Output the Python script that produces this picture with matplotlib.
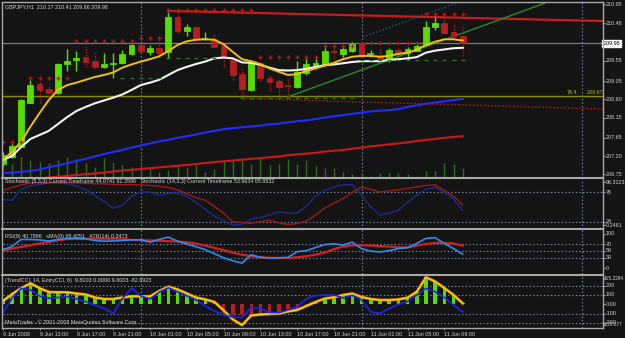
import numpy as np
import matplotlib.pyplot as plt
from matplotlib.patches import Rectangle
from matplotlib.lines import Line2D
import matplotlib.transforms as mtransforms

plt.rcParams['font.family'] = ['Liberation Sans Narrow', 'Liberation Sans', 'DejaVu Sans']

W, H = 625, 338
BG = '#141414'
TXT = '#d4d4d4'
GRID = '#7f8cab'
FRAME = '#a8a8a8'
BULL = '#58dc00'
BEAR = '#b41e1e'
FS = 3.9

#%% Data  (GBPJPY H1, 9 Jun 09:00 .. 11 Jun 11:00)
opens = [207.00, 207.18, 207.43, 208.52, 208.98, 208.85, 208.75, 209.46, 209.57, 209.64,
         209.54, 209.40, 209.46, 209.49, 209.72, 209.94, 209.77, 209.87, 209.77, 210.64,
         210.29, 210.38, 210.08, 210.08, 209.94, 209.57, 209.22, 208.83, 209.49, 209.13,
         209.05, 208.93, 208.90, 209.26, 209.44, 209.47, 209.78, 209.72, 209.80, 209.98,
         209.72, 209.67, 209.59, 209.82, 209.73, 209.80, 209.94, 210.38, 210.47, 210.25,
         210.17]
highs = [207.30, 207.52, 208.61, 209.08, 209.03, 208.95, 209.50, 209.84, 209.80, 209.90,
         209.77, 209.74, 209.74, 209.82, 209.96, 210.14, 209.94, 210.16, 210.76, 210.76,
         210.46, 210.42, 210.27, 210.23, 209.96, 209.62, 209.35, 209.57, 209.52, 209.20,
         209.12, 209.13, 209.54, 209.67, 209.67, 209.91, 209.90, 209.91, 210.01, 210.02,
         209.82, 209.90, 209.86, 209.90, 209.90, 210.02, 210.54, 210.64, 210.68, 210.49,
         210.41]
lows = [206.95, 207.15, 207.42, 208.51, 208.51, 208.54, 208.73, 209.30, 209.30, 209.40,
        209.38, 209.37, 209.13, 209.47, 209.69, 209.74, 209.69, 209.65, 209.61, 210.23,
        210.16, 210.00, 210.06, 209.89, 209.40, 209.08, 208.62, 208.80, 209.05, 208.81,
        208.71, 208.66, 208.88, 209.20, 209.40, 209.45, 209.59, 209.65, 209.77, 209.64,
        209.64, 209.54, 209.53, 209.69, 209.57, 209.79, 209.91, 210.31, 210.23, 210.11,
        209.66]
closes = [207.23, 207.45, 208.58, 208.95, 208.83, 208.76, 209.46, 209.55, 209.63, 209.52,
          209.40, 209.46, 209.50, 209.72, 209.94, 209.79, 209.86, 209.75, 210.62, 210.29,
          210.38, 210.08, 210.09, 209.90, 209.61, 209.20, 208.85, 209.49, 209.13, 209.02,
          208.91, 208.92, 209.28, 209.46, 209.50, 209.79, 209.77, 209.83, 209.96, 209.67,
          209.73, 209.59, 209.82, 209.75, 209.83, 209.92, 210.38, 210.49, 210.24, 210.17,
          209.98]
volumes = [120, 140, 210, 180, 160, 150, 180, 210, 184, 150, 110, 194, 160, 127, 110, 127, 110,
           60, 80, 130, 110, 130, 60, 90, 180, 180, 190, 140, 210, 130, 140, 190, 140, 180,
           120, 94, 94, 60, 37, 37, 20, 44, 50, 50, 37, 20, 67, 67, 144, 137, 94]

ma_fast = [207.10, 207.30, 207.55, 207.92, 208.26, 208.58, 208.83, 208.95, 209.01, 209.08,
           209.15, 209.20, 209.26, 209.38, 209.46, 209.53, 209.59, 209.66, 209.79, 209.94,
           210.03, 210.07, 210.08, 210.07, 209.96, 209.77, 209.59, 209.54, 209.47, 209.36,
           209.28, 209.20, 209.22, 209.30, 209.36, 209.43, 209.50, 209.59, 209.65, 209.67,
           209.67, 209.65, 209.67, 209.72, 209.75, 209.82, 209.94, 210.02, 210.08, 210.08,
           210.05]
ma_mid = [207.10, 207.20, 207.42, 207.62, 207.72, 207.82, 207.99, 208.16, 208.31, 208.41,
          208.50, 208.57, 208.64, 208.72, 208.83, 208.95, 209.01, 209.08, 209.20, 209.32,
          209.40, 209.47, 209.53, 209.61, 209.63, 209.61, 209.51, 209.50, 209.45, 209.38,
          209.32, 209.31, 209.32, 209.35, 209.40, 209.44, 209.46, 209.49, 209.52, 209.54,
          209.54, 209.54, 209.57, 209.59, 209.61, 209.64, 209.75, 209.80, 209.83, 209.86,
          209.87]
ma_slow_blue = [206.78, 206.79, 206.81, 206.83, 206.87, 206.92, 206.97, 207.02, 207.08, 207.13,
                207.19, 207.25, 207.30, 207.35, 207.41, 207.46, 207.51, 207.56, 207.60, 207.65,
                207.69, 207.73, 207.78, 207.82, 207.86, 207.89, 207.91, 207.93, 207.95, 207.98,
                208.00, 208.03, 208.06, 208.08, 208.11, 208.15, 208.18, 208.21, 208.24, 208.27,
                208.30, 208.32, 208.33, 208.36, 208.41, 208.45, 208.49, 208.52, 208.55, 208.58,
                208.61]
ma_slow_red = [206.57, 206.60, 206.61, 206.63, 206.65, 206.67, 206.69, 206.71, 206.73, 206.75,
               206.77, 206.79, 206.82, 206.84, 206.86, 206.88, 206.90, 206.92, 206.94, 206.96,
               206.98, 207.00, 207.03, 207.05, 207.07, 207.09, 207.11, 207.13, 207.15, 207.17,
               207.19, 207.22, 207.24, 207.26, 207.28, 207.31, 207.33, 207.35, 207.38, 207.41,
               207.44, 207.46, 207.49, 207.51, 207.54, 207.57, 207.60, 207.62, 207.65, 207.67,
               207.69]
nan = np.nan
upper_marks = [207.55] * 3 + [209.13] * 5 + [210.04] * 7 + [210.12] * 3 + [210.80] * 10 + \
              [209.65] * 7 + [209.91] * 4 + [209.99] * 7 + [210.70] * 5
lower_marks = [nan] * 13 + [209.13] * 5 + [209.61] * 6 + [nan] * 2 + [208.62] * 13 + [209.57] * 12

# drawn objects (bar index, price)
resist_x, resist_y = [18, 65.25], [210.78, 210.53]
support_x, support_y = [26, 65.25], [208.62, 208.36]
trend_x, trend_y = [31.0, 59.27], [208.66, 211.0]
chan_x, chan_y = [39.16, 49.6], [210.136, 211.0]
fib_level = 208.67
bid = 209.98

stoch_fast = [62.5, 61.6, 80.7, 86.7, 89.3, 92.3, 92.0, 90.6, 86.7, 80.7, 69.4, 59.9, 47.8,
              53.0, 68.5, 76.0, 76.0, 70.3, 73.7, 74.6, 68.5, 58.1, 46.0, 33.9, 25.2, 18.3,
              19.2, 28.7, 31.3, 35.6, 41.7, 39.1, 39.1, 51.2, 68.5, 79.0, 85.0, 88.8, 88.8,
              70.0, 50.0, 35.6, 39.0, 44.0, 58.0, 70.3, 80.7, 84.1, 75.5, 63.3, 44.1]
stoch_slow = [79, 84, 88.5, 92, 92.3, 92.3, 92.3, 92.3, 92, 91, 90.6, 90.2, 89.3, 88.8, 88.8,
              88.5, 87.6, 85.9, 84.1, 79.8, 72.9, 66, 61.6, 51.2, 39.1, 24, 22.6, 21.2, 24.4,
              27, 21.8, 19.2, 20.9, 25.2, 35.6, 47.8, 56.4, 64.6, 75.5, 84.7, 80.7, 76, 78.1,
              79.8, 82.4, 85, 87.6, 88.5, 79, 68.5, 54]

rsi = [53.8, 62.6, 83.2, 83.2, 81.8, 78.8, 83.2, 86.2, 86.2, 84.7, 80.3, 78.2, 78.8, 80.3,
       81.8, 82.4, 75.3, 83.2, 90, 78.2, 70, 62.6, 53.8, 42, 30.3, 21.5, 14.7, 39.1, 31.8,
       29.4, 30.3, 31.2, 47.9, 50.9, 59.7, 68.5, 70.6, 67.1, 75.3, 56.8, 49.4, 47.1, 50.9,
       56.8, 59.7, 71.5, 86.2, 88.2, 71.5, 56.8, 40.8]
rsi_sma = [50.9, 56.8, 61.2, 66.5, 71.5, 75.9, 80.3, 84.7, 85.3, 85.3, 85.3, 85.3, 85.3,
           85.3, 81.8, 81.2, 80.3, 79.4, 78.2, 77.4, 75.3, 71.5, 65.6, 58.8, 52.4, 45, 39.1,
           34.7, 31.2, 30.3, 29.4, 29.4, 31.8, 34.7, 39.1, 45, 55, 63, 66, 66.5, 65.6, 64.1,
           62.6, 60.6, 59.7, 65.6, 70, 73.5, 72.9, 71.5, 65.4]

cci_trend = [35, 111, 175, 226, 172, 132, 129, 129, 116, 105, 73, 57, 57, 73, 86, 86, 86, 143,
             189, 159, 116, 73, 52, 25, -67, -163, -223, -120, -110, -104, -99, -77, -61, -18,
             25, 62, 75, 100, 116, 78, 57, 46, 46, 52, 71, 135, 290, 245, 175, 100, 9.8]
cci_hist = [35, 111, 175, 226, 172, 132, 129, 129, 116, 105, 73, 57, 57, 73, 86, 86, 86, 143,
            189, 159, 116, 73, 52, 25, -95, -110, -110, -105, -105, -100, -100, -80, -61, -18,
            25, 62, 75, 100, 116, 78, 57, 46, 46, 52, 71, 135, 290, 245, 175, 100, 9.8]
cci_entry = [-94, 68, 172, 154, 86, 65, 73, 82, 57, 28, -8, -45, -99, 65, 172, 89, 57, 132, 178,
             132, 89, 46, -18, -72, -115, -137, -144, -34, -43, -88, -90, -61, -26, 62, 95, 100,
             100, 68, 95, 46, -80, -97, -45, -2, 30, 100, 170, 135, 73, -8, -82.7]

tick_bars = list(range(0, 49, 4))
tick_labels = ['9 Jun 2008', '9 Jun 13:00', '9 Jun 17:00', '9 Jun 21:00', '10 Jun 01:00',
               '10 Jun 05:00', '10 Jun 09:00', '10 Jun 13:00', '10 Jun 17:00', '10 Jun 21:00',
               '11 Jun 01:00', '11 Jun 05:00', '11 Jun 09:00']
day_breaks = [15, 39, 63]

bars = np.arange(len(closes))

#%% Figure
fig = plt.figure(figsize=(W / 100, H / 100), dpi=100, facecolor=BG)


def panel(top, bottom, ylim):
    ax = fig.add_axes([3 / W, 1 - bottom / H, 600 / W, (bottom - top) / H])
    ax.set_facecolor(BG)
    for s in ax.spines.values():
        s.set_visible(False)
    ax.set_xlim(0.03, 65.25)
    ax.set_ylim(*ylim)
    ax.tick_params(left=False, labelleft=False, bottom=False, labelbottom=False)
    for d in day_breaks:
        ax.axvline(d, color=GRID, lw=0.8, ls=(0, (1.2, 2)), zorder=1)
    return ax


def rlabels(ax, vals, texts, color=TXT, size=FS, xoff=1.0045):
    tr = mtransforms.blended_transform_factory(ax.transAxes, ax.transData)
    for v, t in zip(vals, texts):
        ax.text(xoff, v, t, transform=tr, ha='left', va='center', fontsize=size,
                color=color, clip_on=False)
        ax.plot([1.0, 1.004], [v, v], transform=tr, color=FRAME, lw=0.6, clip_on=False)


def fig_line(xs, ys, **kw):
    fig.add_artist(Line2D([x / W for x in xs], [1 - y / H for y in ys],
                          transform=fig.transFigure, **kw))


# ---- main price panel
ax = panel(2, 177.7, (206.666, 211.0))
y0, y1 = ax.get_ylim()
vol_scale = (y1 - y0) / 1757
ax.vlines(bars, y0, [y0 + v * vol_scale for v in volumes], color='#2d6f1d', lw=1, zorder=2)

ax.plot(bars, ma_slow_blue, color='#1f2dff', lw=1.5, zorder=3)
ax.plot(bars, ma_slow_red, color='#cc1818', lw=1.5, zorder=3)

ax.axhline(fib_level, color='#8a8a00', lw=1, zorder=2)
ax.axhline(bid, color='#7a7a7a', lw=0.9, zorder=2)
ax.text(61.3, fib_level + 0.03, '76.4', color='#c0c000', fontsize=FS, ha='left', va='bottom')
ax.text(63.5, fib_level + 0.03, '208.67', color='#c0c000', fontsize=FS, ha='left', va='bottom')

ax.plot(resist_x, resist_y, color='#c81c1c', lw=1.6, zorder=3)
ax.plot(support_x, support_y, color='#a01818', lw=1.2, ls=(0, (1, 1.2)), zorder=3)
ax.plot(trend_x, trend_y, color='#2a8a2a', lw=1, zorder=3)
ax.plot(chan_x, chan_y, color='#1f5f8f', lw=1, ls=(0, (1, 1.5)), zorder=3)

for i in bars:
    o, h, l, c = opens[i], highs[i], lows[i], closes[i]
    up = c >= o
    col = BULL if up else BEAR
    ax.vlines(i, l, h, color=col, lw=1, linestyles='solid' if up else (0, (1, 1)), zorder=4)
    lo, hi = min(o, c), max(o, c)
    if hi - lo < 0.025:
        ax.hlines((o + c) / 2, i - 0.35, i + 0.35, color=col, lw=1.2, zorder=5)
    else:
        ax.add_patch(Rectangle((i - 0.32, lo), 0.64, hi - lo, facecolor=col, edgecolor=col,
                               lw=0.6, zorder=5))

ax.plot(bars, ma_mid, color='#f4f4f4', lw=1.5, zorder=6)
ax.plot(bars, ma_fast, color='#f2c010', lw=1.4, zorder=6)
ax.plot(bars, upper_marks, '+', color='#b41c1c', ms=3, mew=0.9, zorder=7)
ax.plot(bars, lower_marks, '_', color='#2a7a2a', ms=2.6, mew=0.9, zorder=7)

ax.text(0.004, 0.985, 'GBPJPY,H1  210.17 210.41 209.66 209.98', transform=ax.transAxes,
        fontsize=FS, color=TXT, ha='left', va='top')
rlabels(ax, [210.95, 210.48, 209.55, 209.05, 208.60, 208.15, 207.65, 207.20, 206.75],
        ['210.95', '210.48', '209.55', '209.05', '208.60', '208.15', '207.65', '207.20', '206.75'])
tr = mtransforms.blended_transform_factory(ax.transAxes, ax.transData)
ax.text(1.001, bid, '209.98', transform=tr, ha='left', va='center', fontsize=FS, color='black',
        clip_on=False, bbox=dict(facecolor='white', edgecolor='white', pad=0.9))

# ---- stochastic panel
ax_s = panel(178.5, 228.5, (12.2, 99.7))
for lv in (76, 24):
    ax_s.axhline(lv, color=GRID, lw=0.8, ls=(0, (1.2, 2)), zorder=1)
ax_s.plot(bars, stoch_fast, color='#1c2c8c', lw=1, zorder=3)
ax_s.plot(bars, stoch_slow, color='#9c1a1a', lw=1, zorder=3)
ax_s.text(0.004, 0.93, 'Stochastic (5,3,3) Current Timeframe 44.0741 62.3596   '
          'Stochastic (14,3,3) Current Timeframe 53.9634 65.9532',
          transform=ax_s.transAxes, fontsize=FS, color=TXT, ha='left', va='center')
rlabels(ax_s, [93.3, 76, 24, 18], ['98.3123', '76', '24', '0.2481'])

# ---- RSI panel
ax_r = panel(229.5, 274, (-16.7, 112))
for lv in (70, 50, 30):
    ax_r.axhline(lv, color=GRID, lw=0.8, ls=(0, (1.2, 2)), zorder=1)
ax_r.plot(bars, rsi_sma, color='#d42020', lw=1.6, zorder=3)
ax_r.plot(bars, rsi, color='#2c8cf0', lw=1.2, zorder=4)
ax_r.text(0.004, 0.85, 'RSI(9) 40.7886   sMA(9) 65.4251   ATR(14) 0.3473',
          transform=ax_r.transAxes, fontsize=FS, color=TXT, ha='left', va='center')
rlabels(ax_r, [100, 70, 50, 30, 0], ['100', '70', '50', '30', '0'])

# ---- CCI panel
ax_c = panel(275, 327.5, (-249.5, 315))
for lv in (200, 100, -100, -200):
    ax_c.axhline(lv, color=GRID, lw=0.8, ls=(0, (1.2, 2)), zorder=1)
hist_cols = [BULL if v >= 0 else BEAR for v in cci_hist]
ax_c.bar(bars, cci_hist, width=0.38, color=hist_cols, zorder=2)
ax_c.plot(bars, cci_trend, color='#e08a00', lw=2.0, zorder=3)
ax_c.plot(bars, cci_trend, color='#f6d21a', lw=1.0, zorder=4)
ax_c.plot(bars, cci_entry, color='#1c24f0', lw=1.2, zorder=5)
ax_c.text(0.004, 0.9, '(TrendCCI, 14, EntryCCI, 6)  9.8003 0.0000 9.8003 -82.6923',
          transform=ax_c.transAxes, fontsize=FS, color=TXT, ha='left', va='center')
ax_c.text(0.004, 0.1, 'MetaTrader - \u00a9 2001-2008 MetaQuotes Software Corp.',
          transform=ax_c.transAxes, fontsize=FS, color=TXT, ha='left', va='center')
rlabels(ax_c, [200, 100, 0, -100, -200], ['200', '100', '0.00', '-100', '-200'])
rlabels(ax_c, [280, -222], ['315.2294', '-229.677'], size=3.4, xoff=1.002)

ax_c.set_xticks(tick_bars)
ax_c.set_xticklabels(tick_labels)
ax_c.tick_params(bottom=True, labelbottom=True, length=1.5, width=0.6, color=FRAME,
                 labelsize=FS, labelcolor=TXT, pad=1.4)
for lab in ax_c.get_xticklabels():
    lab.set_horizontalalignment('left')

# ---- frame
fig_line([2, 603], [1.5, 1.5], color=FRAME, lw=1)
for yy in (178, 229, 274.5):
    fig_line([2, 603], [yy, yy], color=FRAME, lw=1.5)
fig_line([2, 603], [327.8, 327.8], color=FRAME, lw=1)
fig_line([2, 2], [1.5, 327.8], color=FRAME, lw=1)
fig_line([603, 603], [1.5, 327.8], color=FRAME, lw=1)

fig.savefig('out.png', dpi=100, facecolor=BG)
